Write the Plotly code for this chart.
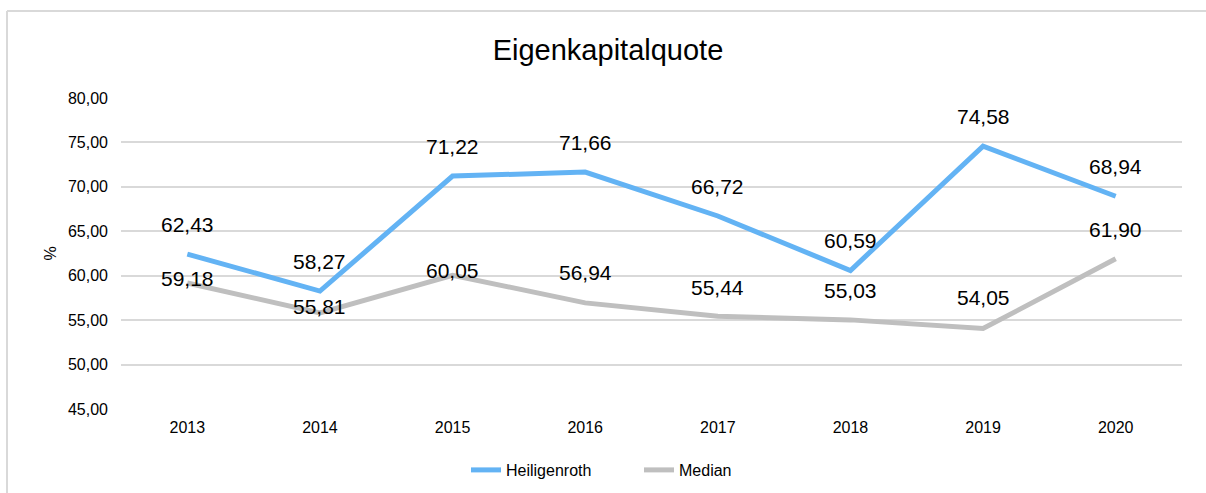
import plotly.graph_objects as go

years = ["2013", "2014", "2015", "2016", "2017", "2018", "2019", "2020"]
heiligenroth = [62.43, 58.27, 71.22, 71.66, 66.72, 60.59, 74.58, 68.94]
median = [59.18, 55.81, 60.05, 56.94, 55.44, 55.03, 54.05, 61.90]
y_ticks = [45, 50, 55, 60, 65, 70, 75, 80]

# label vertical offsets in px (style only)
h_shift = [30] * 8
m_shift = [5, 6, 5, 30, 29, 29, 31, 29]

BLUE = "#63B3F4"
GRAY = "#BFBFBF"
FONT = "Arial, Liberation Sans, sans-serif"

fig = go.Figure()
fig.add_trace(go.Scatter(x=years, y=heiligenroth, mode="lines", name="Heiligenroth",
                         line=dict(color=BLUE, width=5)))
fig.add_trace(go.Scatter(x=years, y=median, mode="lines", name="Median",
                         line=dict(color=GRAY, width=5)))

def fmt(v):
    return f"{v:.2f}".replace(".", ",")

annotations = []
for i, (v, s) in enumerate(zip(heiligenroth, h_shift)):
    annotations.append(dict(x=i, y=v, text=fmt(v), showarrow=False, yshift=s,
                            xref="x", yref="y", font=dict(size=21, color="#000000", family=FONT)))
for i, (v, s) in enumerate(zip(median, m_shift)):
    annotations.append(dict(x=i, y=v, text=fmt(v), showarrow=False, yshift=s,
                            xref="x", yref="y", font=dict(size=21, color="#000000", family=FONT)))

fig.update_layout(
    width=1206, height=493,
    margin=dict(l=121, r=24, t=98, b=84, autoexpand=False),
    paper_bgcolor="white", plot_bgcolor="white",
    separators=",.",
    font=dict(family=FONT, size=16, color="#000000"),
    title=dict(text="Eigenkapitalquote", x=608 / 1206, xref="container", y=1 - 50 / 493,
               yref="container", xanchor="center", yanchor="middle",
               font=dict(size=29, color="#000000", family=FONT)),
    showlegend=True,
    legend=dict(orientation="h", x=(466 - 121) / 1061, y=1 - 470 / 493, yref="container",
                xanchor="left", yanchor="middle",
                entrywidth=128, entrywidthmode="pixels",
                font=dict(size=16, color="#000000", family=FONT)),
    annotations=annotations,
    xaxis=dict(type="category", range=[-0.5, 7.5], showgrid=False, zeroline=False,
               showline=False, ticks="", tickfont=dict(size=16, color="#000000"),
               ticklabelstandoff=7),
    yaxis=dict(range=[45, 80], tickvals=y_ticks, tickformat=".2f", showgrid=True,
               gridcolor="#D9D9D9", gridwidth=1.5, zeroline=False, showline=False,
               ticks="", tickfont=dict(size=16, color="#000000"), ticklabelstandoff=12,
               title=dict(text="%", font=dict(size=16, color="#000000"), standoff=7)),
    shapes=[
        dict(type="line", xref="paper", yref="paper", x0=(7 - 121) / 1061, x1=1.05,
             y0=(409 - 11) / 311, y1=(409 - 11) / 311, line=dict(color="#D9D9D9", width=2)),
        dict(type="line", xref="paper", yref="paper", x0=(7 - 121) / 1061, x1=(7 - 121) / 1061,
             y0=(409 - 11) / 311, y1=-0.3, line=dict(color="#D9D9D9", width=2)),
    ],
)

fig.write_html("out.html", config={"displayModeBar": False},
               post_script="document.body.style.margin='0';")
